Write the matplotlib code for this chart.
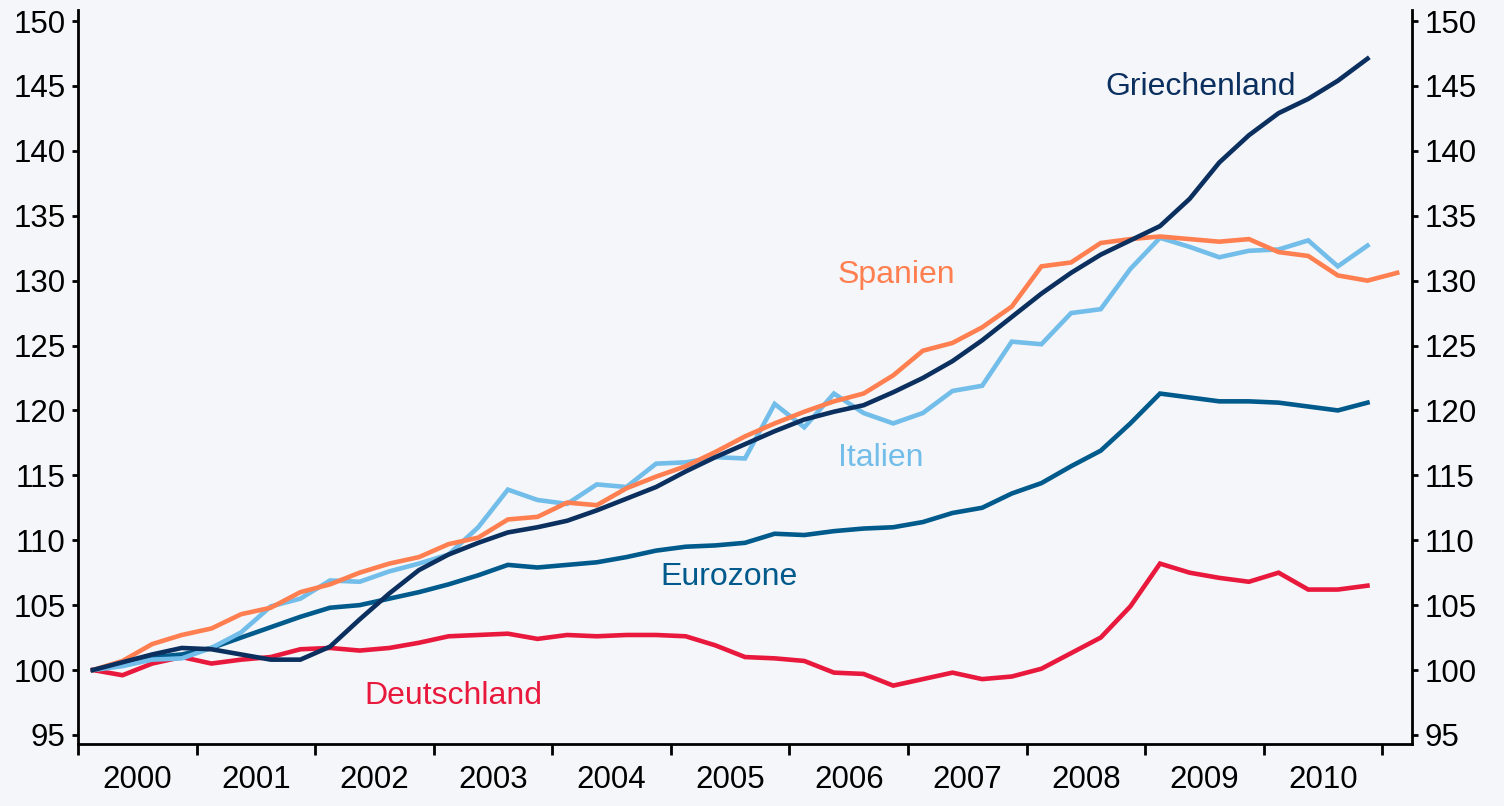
import matplotlib.pyplot as plt
import numpy as np

# Quartalswerte 2000Q1 .. 2010Q4 (Spanien bis 2011Q1), Index 2000Q1 = 100
griechenland = [100.0, 100.6, 101.2, 101.7, 101.6, 101.2, 100.8, 100.8, 101.8, 103.9,
                105.9, 107.7, 108.9, 109.8, 110.6, 111.0, 111.5, 112.3, 113.2, 114.1,
                115.3, 116.4, 117.4, 118.4, 119.3, 119.9, 120.4, 121.4, 122.5, 123.8,
                125.4, 127.2, 129.0, 130.6, 132.0, 133.1, 134.2, 136.3, 139.1, 141.2,
                142.9, 144.0, 145.4, 147.1]
spanien = [100.0, 100.7, 102.0, 102.7, 103.2, 104.3, 104.8, 106.0, 106.6, 107.5,
           108.2, 108.7, 109.7, 110.2, 111.6, 111.8, 112.9, 112.7, 114.0, 114.9,
           115.7, 116.8, 118.0, 119.0, 119.9, 120.7, 121.3, 122.7, 124.6, 125.2,
           126.4, 128.0, 131.1, 131.4, 132.9, 133.2, 133.4, 133.2, 133.0, 133.2,
           132.2, 131.9, 130.4, 130.0, 130.6]
italien = [100.0, 100.3, 100.8, 100.9, 101.7, 102.9, 104.9, 105.5, 106.9, 106.8,
           107.6, 108.2, 108.9, 111.0, 113.9, 113.1, 112.8, 114.3, 114.1, 115.9,
           116.0, 116.4, 116.3, 120.5, 118.7, 121.3, 119.8, 119.0, 119.8, 121.5,
           121.9, 125.3, 125.1, 127.5, 127.8, 130.9, 133.3, 132.6, 131.8, 132.3,
           132.4, 133.1, 131.1, 132.7]
eurozone = [100.0, 100.5, 101.0, 101.2, 101.7, 102.5, 103.3, 104.1, 104.8, 105.0,
            105.5, 106.0, 106.6, 107.3, 108.1, 107.9, 108.1, 108.3, 108.7, 109.2,
            109.5, 109.6, 109.8, 110.5, 110.4, 110.7, 110.9, 111.0, 111.4, 112.1,
            112.5, 113.6, 114.4, 115.7, 116.9, 119.0, 121.3, 121.0, 120.7, 120.7,
            120.6, 120.3, 120.0, 120.6]
deutschland = [100.0, 99.6, 100.5, 101.0, 100.5, 100.8, 101.0, 101.6, 101.7, 101.5,
               101.7, 102.1, 102.6, 102.7, 102.8, 102.4, 102.7, 102.6, 102.7, 102.7,
               102.6, 101.9, 101.0, 100.9, 100.7, 99.8, 99.7, 98.8, 99.3, 99.8,
               99.3, 99.5, 100.1, 101.3, 102.5, 104.9, 108.2, 107.5, 107.1, 106.8,
               107.5, 106.2, 106.2, 106.5]
jahre = ['2000', '2001', '2002', '2003', '2004', '2005', '2006', '2007', '2008', '2009', '2010']

bg = '#f4f6f9'
plt.rcParams['font.family'] = ['Liberation Sans', 'DejaVu Sans']

fig = plt.figure(figsize=(15.04, 8.06), dpi=100, facecolor=bg)
ax = fig.add_axes([0.0519, 0.0769, 0.8869, 0.9107], facecolor=bg)

def plot_series(werte, farbe):
    x = np.arange(len(werte)) + 0.5  # Quartalsmitte
    ax.plot(x, werte, color=farbe, lw=3.3, solid_joinstyle='miter')

plot_series(deutschland, '#e8193c')
plot_series(eurozone, '#005a8c')
plot_series(italien, '#72bde9')
plot_series(spanien, '#ff7f50')
plot_series(griechenland, '#0b2f5e')

# Beschriftungen direkt an den Linien
labels = [(37.87, 144.9, 'Griechenland', '#0b2f5e'),
          (27.6, 130.4, 'Spanien', '#ff7f50'),
          (27.07, 116.3, 'Italien', '#72bde9'),
          (21.97, 107.2, 'Eurozone', '#005a8c'),
          (12.66, 98.0, 'Deutschland', '#e8193c')]
for x, y, t, c in labels:
    ax.text(x, y, t, color=c, fontsize=23, ha='center', va='center')

ax.set_xlim(0, 45)
ax.set_ylim(94.3, 150.85)
ax.set_yticks(np.arange(95, 151, 5))
ax.set_xticks(np.arange(0, 45, 4))
ax.set_xticklabels([])
ax.set_xticks(np.arange(2, 44, 4), minor=True)
ax.set_xticklabels(jahre, minor=True)

ax.spines['top'].set_visible(False)
for s in ['left', 'right', 'bottom']:
    ax.spines[s].set_linewidth(2)
ax.tick_params(axis='y', which='both', left=True, right=True, labelleft=True,
               labelright=True, direction='out', length=4, width=2, labelsize=22.5, pad=5)
ax.tick_params(axis='x', which='major', direction='out', length=8, width=2)
ax.tick_params(axis='x', which='minor', length=0, labelsize=22.5, pad=15)

fig.savefig('out.png', dpi=100, facecolor=bg)
